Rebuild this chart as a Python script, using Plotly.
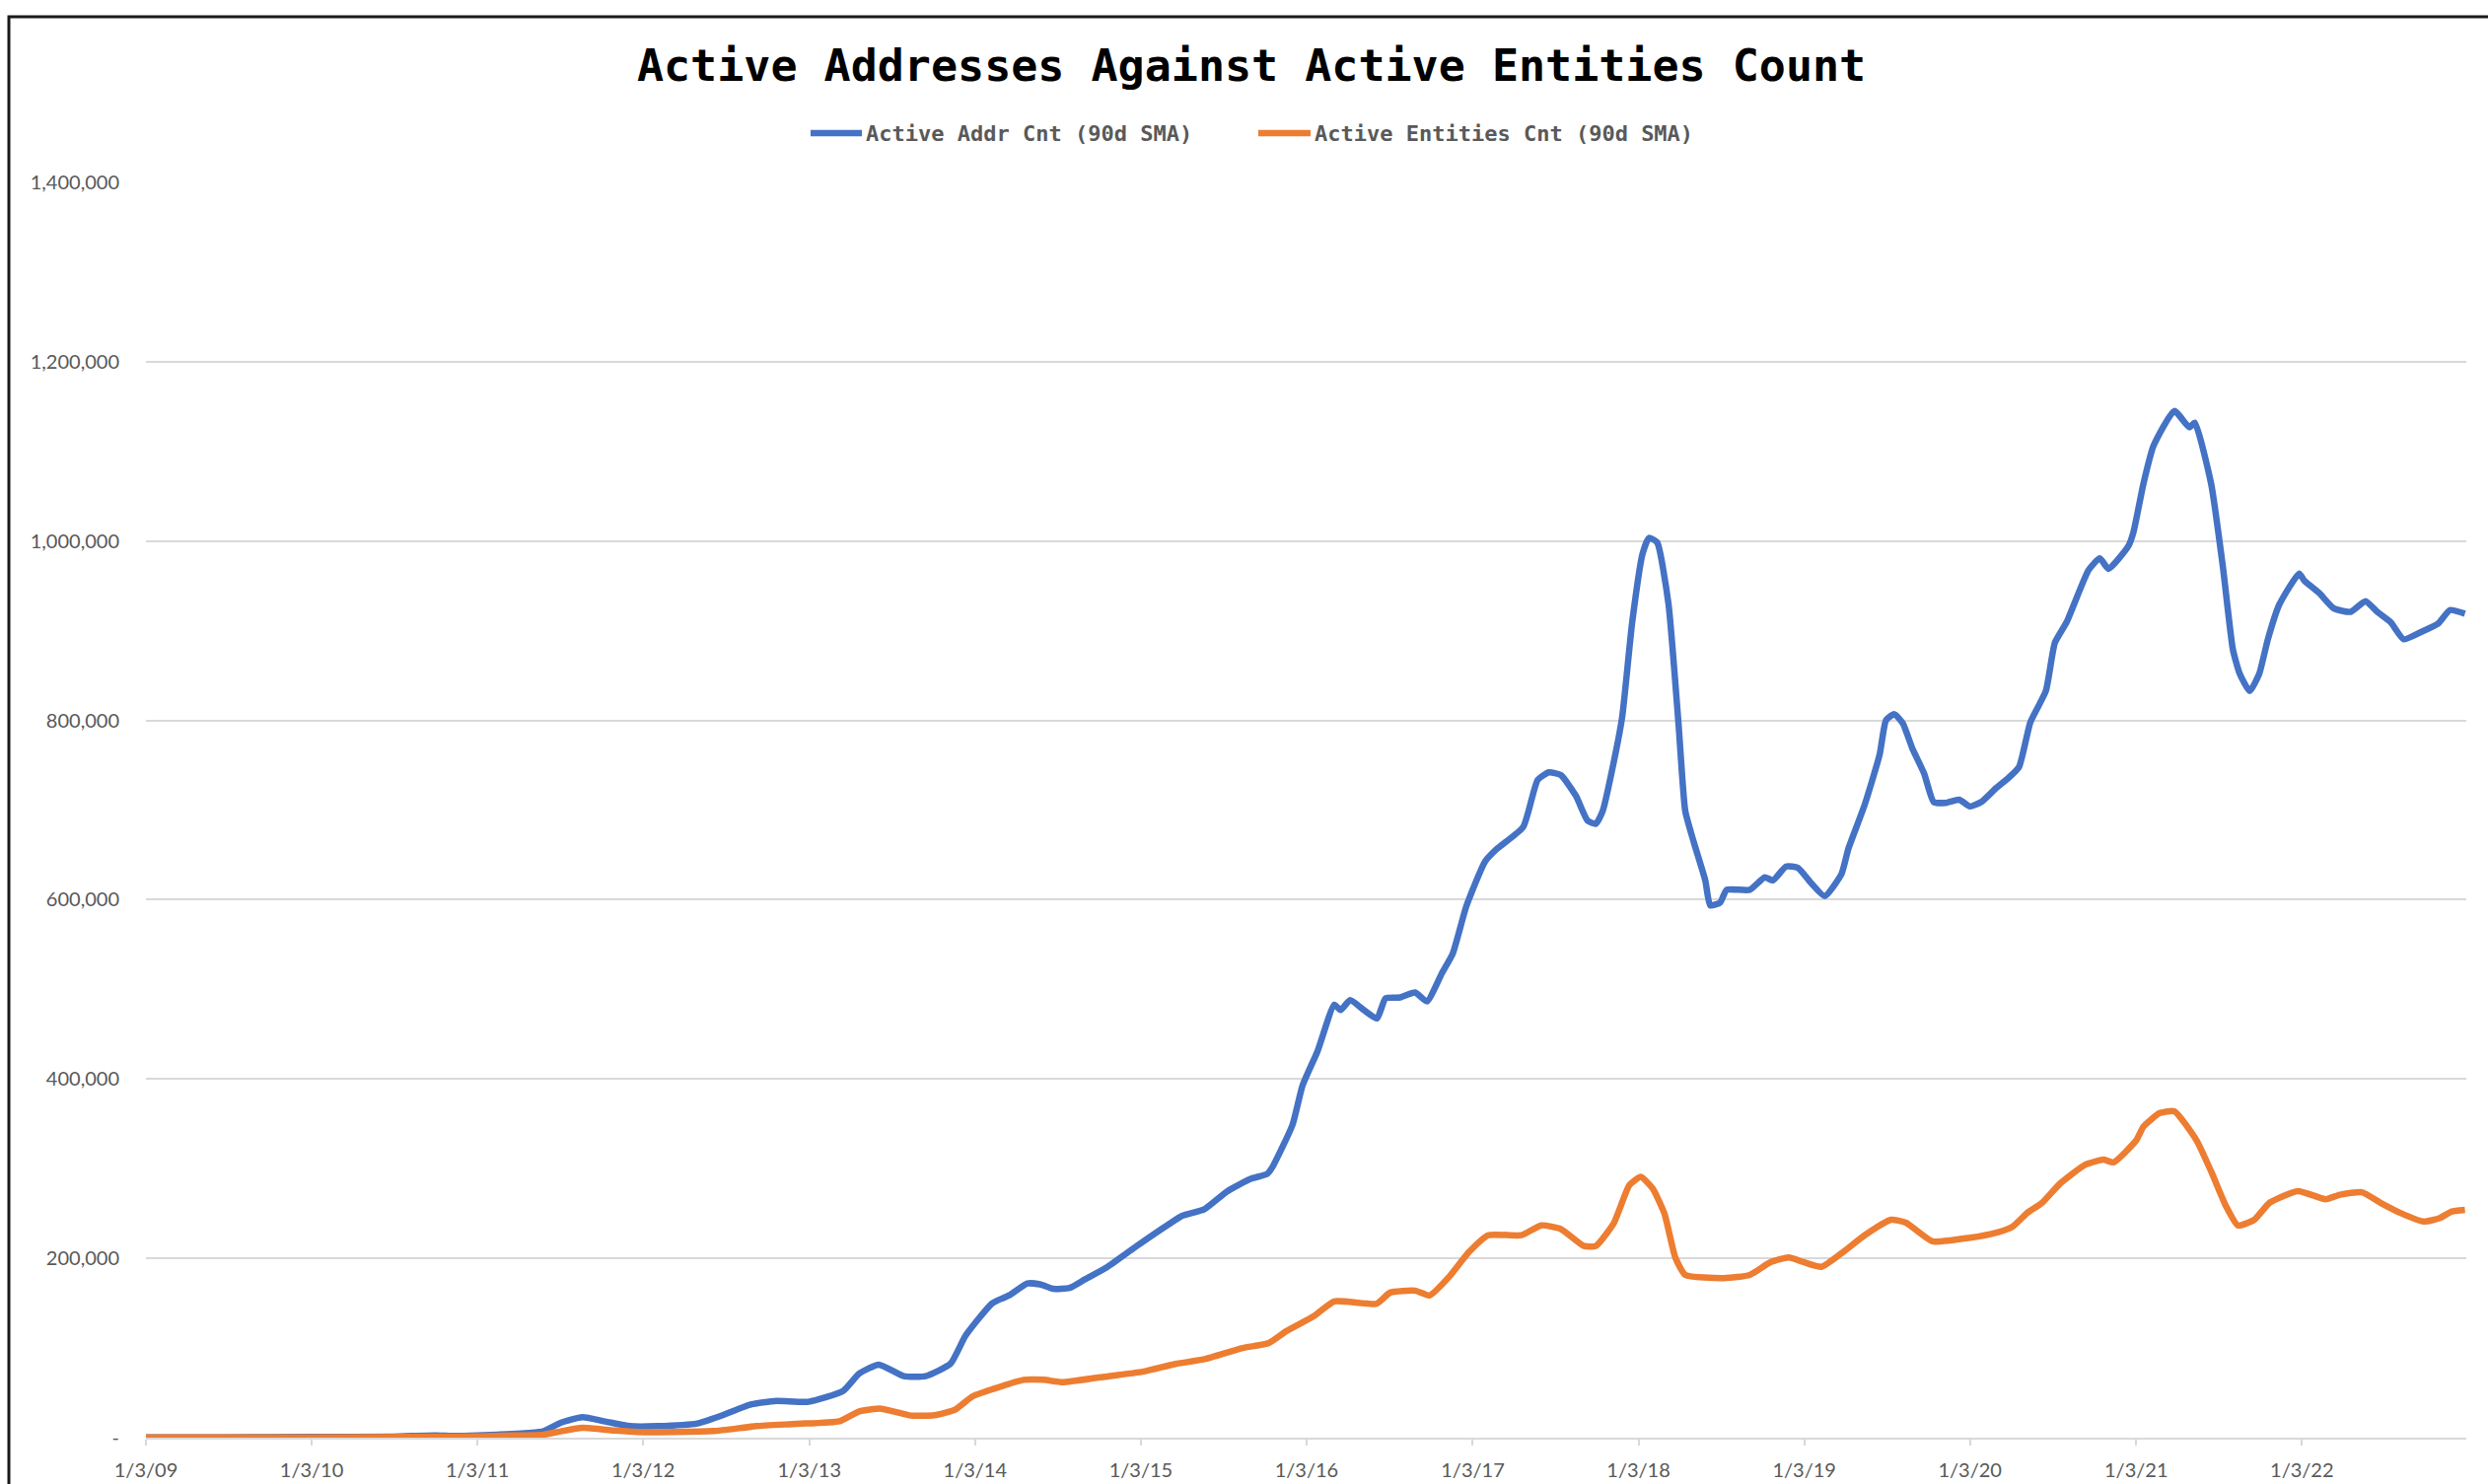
import plotly.graph_objects as go

# --- Active addresses, 90-day simple moving average ---
addr_dates = [
    "2009-01-03", "2009-07-01", "2010-01-01", "2010-07-01", "2010-10-01", "2010-11-15",
    "2011-01-03", "2011-04-01", "2011-05-25", "2011-07-05", "2011-08-22", "2011-10-12",
    "2011-12-05", "2012-02-03", "2012-05-01", "2012-06-20", "2012-08-25", "2012-10-22",
    "2013-01-01", "2013-03-18", "2013-04-23", "2013-06-05", "2013-07-30", "2013-09-16",
    "2013-11-10", "2013-12-13", "2014-02-10", "2014-03-20", "2014-04-28", "2014-05-26",
    "2014-06-24", "2014-07-30", "2014-09-02", "2014-10-20", "2014-12-25", "2015-03-05",
    "2015-04-05", "2015-05-23", "2015-07-13", "2015-09-02", "2015-10-08", "2015-10-20",
    "2015-12-03", "2015-12-25", "2016-01-27", "2016-03-04", "2016-03-18", "2016-04-08",
    "2016-05-08", "2016-06-06", "2016-06-25", "2016-07-27", "2016-08-29", "2016-09-24",
    "2016-10-27", "2016-11-20", "2016-12-20", "2017-01-30", "2017-02-25", "2017-04-24",
    "2017-05-26", "2017-06-20", "2017-07-16", "2017-08-18", "2017-09-13", "2017-10-01",
    "2017-10-16", "2017-11-10", "2017-11-28", "2017-12-20", "2018-01-12", "2018-01-26",
    "2018-02-13", "2018-03-10", "2018-04-01", "2018-04-16", "2018-05-05", "2018-05-30",
    "2018-06-10", "2018-07-02", "2018-07-16", "2018-09-05", "2018-10-08", "2018-10-26",
    "2018-11-24", "2018-12-20", "2019-01-19", "2019-02-17", "2019-03-26", "2019-04-10",
    "2019-05-16", "2019-06-18", "2019-07-02", "2019-07-20", "2019-08-08", "2019-08-29",
    "2019-09-24", "2019-10-15", "2019-11-10", "2019-12-10", "2020-01-03", "2020-01-28",
    "2020-03-01", "2020-03-28", "2020-04-20", "2020-05-15", "2020-06-18", "2020-07-08",
    "2020-08-03", "2020-09-20", "2020-10-15", "2020-11-03", "2020-12-17", "2020-12-28",
    "2021-01-19", "2021-02-10", "2021-03-28", "2021-04-30", "2021-05-12", "2021-06-17",
    "2021-07-13", "2021-08-04", "2021-08-19", "2021-09-10", "2021-10-01", "2021-10-20",
    "2021-11-14", "2021-12-28", "2022-01-08", "2022-02-10", "2022-03-14", "2022-04-20",
    "2022-05-23", "2022-06-18", "2022-07-17", "2022-08-15", "2022-09-20", "2022-10-30",
    "2022-11-25", "2022-12-28",
]
addr_values = [
    300, 400, 700, 1200, 2500, 1800,
    2500, 4500, 6600, 16500, 22800, 18000,
    12800, 12800, 15800, 23900, 36700, 41000,
    40000, 52000, 71600, 81500, 68600, 68600,
    82600, 113800, 150000, 159000, 172000, 171000,
    166000, 167000, 176600, 190000, 213800, 237900,
    247700, 254800, 275000, 288700, 294000, 302000,
    348900, 392600, 430900, 482800, 477000, 488000,
    477000, 467500, 490000, 491000, 496500, 486600,
    518000, 540000, 593000, 642600, 656600, 681000,
    733700, 742000, 739000, 716000, 688000, 684700,
    698700, 754800, 803800, 909000, 986000, 1003500,
    998600, 930000, 796800, 698700, 663700, 621600,
    593600, 597000, 611000, 611000, 625000, 621600,
    637000, 635600, 618000, 604000, 628600, 656600,
    705700, 761800, 800000, 807000, 796800, 768800,
    740700, 709000, 708000, 711600, 704000, 709000,
    724700, 736000, 748000, 798000, 832700, 886700,
    909800, 967600, 980700, 969000, 994600, 1010000,
    1064000, 1106000, 1145000, 1127000, 1132000, 1064000,
    971000, 879000, 852000, 832700, 852000, 890500,
    929000, 963800, 956000, 942000, 925000, 921000,
    933000, 921000, 909800, 890500, 898000, 908000,
    923000, 919000,
]

# --- Active entities, 90-day simple moving average ---
ent_dates = [
    "2009-01-03", "2010-01-01", "2010-10-01", "2011-01-03", "2011-04-01", "2011-05-25",
    "2011-07-05", "2011-08-22", "2011-10-30", "2011-12-20", "2012-06-05", "2012-09-07",
    "2012-12-05", "2013-03-10", "2013-04-23", "2013-06-10", "2013-08-15", "2013-10-05",
    "2013-11-20", "2013-12-28", "2014-02-10", "2014-04-20", "2014-06-03", "2014-07-15",
    "2014-10-05", "2015-01-10", "2015-03-18", "2015-05-23", "2015-08-15", "2015-10-12",
    "2015-11-20", "2016-01-19", "2016-03-04", "2016-06-05", "2016-07-05", "2016-08-29",
    "2016-09-30", "2016-11-12", "2016-12-25", "2017-02-06", "2017-04-20", "2017-06-03",
    "2017-07-16", "2017-09-05", "2017-10-01", "2017-11-10", "2017-12-14", "2018-01-08",
    "2018-02-03", "2018-03-01", "2018-03-25", "2018-04-16", "2018-07-10", "2018-09-05",
    "2018-10-20", "2018-11-30", "2019-01-03", "2019-02-10", "2019-04-01", "2019-05-16",
    "2019-07-13", "2019-08-15", "2019-10-12", "2020-01-03", "2020-03-03", "2020-04-05",
    "2020-05-08", "2020-06-10", "2020-07-20", "2020-09-13", "2020-10-23", "2020-11-14",
    "2021-01-03", "2021-01-19", "2021-02-24", "2021-03-28", "2021-05-16", "2021-06-17",
    "2021-07-20", "2021-08-15", "2021-09-20", "2021-10-24", "2021-12-25", "2022-02-24",
    "2022-03-28", "2022-05-15", "2022-06-25", "2022-08-08", "2022-09-28", "2022-11-03",
    "2022-11-28", "2022-12-28",
]
ent_values = [
    200, 400, 1000, 1500, 2500, 3000,
    7000, 11000, 8000, 6200, 7300, 12800,
    15400, 18400, 29400, 32300, 24600, 25000,
    31200, 45900, 54000, 64500, 64500, 61800,
    67300, 73800, 82000, 87500, 100000, 105500,
    119000, 135600, 152000, 149300, 161800, 164000,
    158600, 179400, 206700, 225800, 225800, 236800,
    232700, 213700, 213700, 239700, 281700, 290800,
    278000, 250000, 201000, 181500, 178000, 181500,
    195500, 201000, 195500, 190600, 208000, 225700,
    243000, 239700, 219000, 223000, 229000, 235000,
    250600, 262000, 283700, 304500, 310000, 307000,
    331500, 347000, 362000, 364000, 331500, 297000,
    258000, 236700, 243000, 262000, 275000, 266000,
    271000, 273700, 262000, 250600, 241000, 245000,
    252000, 254000,
]

# --- Axis ticks ---
x_tick_dates = [f"{y}-01-03" for y in range(2009, 2023)]
x_tick_labels = [f"1/3/{y % 100:02d}" for y in range(2009, 2023)]
y_tick_values = [0, 200000, 400000, 600000, 800000, 1000000, 1200000, 1400000]
y_tick_labels = ["-", "200,000", "400,000", "600,000", "800,000",
                 "1,000,000", "1,200,000", "1,400,000"]

series_names = ["Active Addr Cnt (90d SMA)", "Active Entities Cnt (90d SMA)"]

BLUE = "#4472C4"
ORANGE = "#ED7D31"
GRID = "#D9D9D9"
LABEL = "#595959"

W, H = 2523, 1505
ML, MR, MT, MB = 148, 22, 185, 47
PW, PH = W - ML - MR, H - MT - MB


def px_x(x):
    """Figure pixel column -> paper x."""
    return (x - ML) / PW


def px_y(y):
    """Figure pixel row -> paper y."""
    return (H - MB - y) / PH


fig = go.Figure()
fig.add_trace(go.Scatter(
    x=addr_dates, y=addr_values, mode="lines", name=series_names[0],
    line=dict(color=BLUE, width=6.5, shape="spline", smoothing=0.5),
    showlegend=False,
))
fig.add_trace(go.Scatter(
    x=ent_dates, y=ent_values, mode="lines", name=series_names[1],
    line=dict(color=ORANGE, width=6.5, shape="spline", smoothing=0.5),
    showlegend=False,
))

fig.update_layout(
    width=W, height=H,
    margin=dict(l=ML, r=MR, t=MT, b=MB, autoexpand=False),
    paper_bgcolor="white", plot_bgcolor="white",
    title=dict(
        text="<b>Active Addresses Against Active Entities Count</b>",
        font=dict(family="DejaVu Sans Mono", size=45, color="black"),
        x=0.503, xref="container", xanchor="center",
        y=1 - 66 / H, yref="container", yanchor="middle",
    ),
    showlegend=False,
)

# Legend row drawn as line samples plus labels
legend_y = px_y(135)
legend_items = [(822, 874, BLUE, series_names[0]), (1276, 1329, ORANGE, series_names[1])]
for x0, x1, color, label in legend_items:
    fig.add_shape(
        type="line", xref="paper", yref="paper",
        x0=px_x(x0), x1=px_x(x1), y0=legend_y, y1=legend_y,
        line=dict(color=color, width=6.5),
    )
    fig.add_annotation(
        xref="paper", yref="paper", x=px_x(x1 + 2), y=legend_y,
        xanchor="left", yanchor="middle", showarrow=False,
        text=f"<b>{label}</b>",
        font=dict(family="DejaVu Sans Mono", size=22, color=LABEL),
    )

fig.update_xaxes(
    type="date", automargin=False,
    range=["2009-01-03", "2022-12-31"],
    tickvals=x_tick_dates, ticktext=x_tick_labels,
    tickfont=dict(family="Lato", size=20, color=LABEL),
    showgrid=False, zeroline=False,
    showline=True, linecolor=GRID, linewidth=2,
    ticks="outside", ticklen=6, tickcolor=GRID, tickwidth=1.5,
    ticklabelstandoff=8,
)
fig.update_yaxes(
    automargin=False,
    range=[0, 1400000],
    tickvals=y_tick_values, ticktext=y_tick_labels,
    tickfont=dict(family="Lato", size=20, color=LABEL),
    showgrid=True, gridcolor=GRID, gridwidth=2,
    zeroline=False, showline=False, ticks="",
    ticklabelstandoff=26,
)

# Dark frame around the chart area (top and left edges visible)
fig.add_shape(
    type="rect", xref="paper", yref="paper",
    x0=px_x(9), x1=1.05, y0=-0.1, y1=px_y(17),
    line=dict(color="#1a1a1a", width=3), fillcolor="rgba(0,0,0,0)",
    layer="above",
)

fig.write_html("out.html")
